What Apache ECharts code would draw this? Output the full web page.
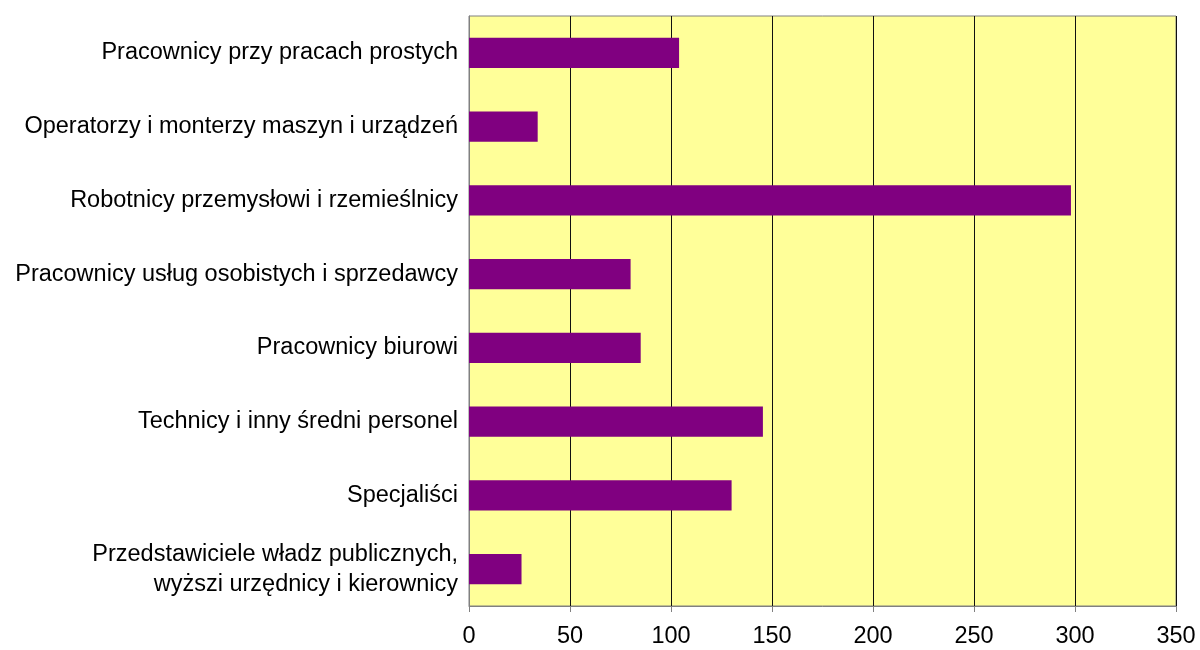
<!DOCTYPE html>
<html>
<head>
<meta charset="utf-8">
<script src="https://cdn.jsdelivr.net/npm/echarts@6/dist/echarts.min.js"></script>
<style>
html,body{margin:0;padding:0;background:#fff;}
#chart{width:1200px;height:650px;}
</style>
</head>
<body>
<div id="chart"></div>
<script>
// grupy zawodow - od dolu do gory
var categories = [
	"Przedstawiciele władz publicznych,\nwyższi urzędnicy i kierownicy",
	"Specjaliści",
	"Technicy i inny średni personel",
	"Pracownicy biurowi",
	"Pracownicy usług osobistych i sprzedawcy",
	"Robotnicy przemysłowi i rzemieślnicy",
	"Operatorzy i monterzy maszyn i urządzeń",
	"Pracownicy przy pracach prostych"
];
var values = [26, 130, 145.5, 85, 80, 298, 34, 104];
var xTicks = [0, 50, 100, 150, 200, 250, 300, 350];

var chart = echarts.init(document.getElementById("chart"));
var option = {
	animation: false,
	backgroundColor: "#ffffff",
	grid: {
		left: 469,
		right: 24,
		top: 16,
		bottom: 44,
		show: true,
		backgroundColor: "#ffff99",
		borderColor: "#808080",
		borderWidth: 1
	},
	xAxis: {
		type: "value",
		min: xTicks[0],
		max: xTicks[xTicks.length - 1],
		interval: 50,
		axisLine: {show: true, lineStyle: {color: "#808080", width: 1}},
		axisTick: {show: true, length: 6, lineStyle: {color: "#808080"}},
		axisLabel: {
			color: "#000",
			fontFamily: "Liberation Sans, Arial",
			fontSize: 23.5,
			margin: 19
		},
		splitLine: {show: true, lineStyle: {color: "#111", width: 1}}
	},
	yAxis: {
		type: "category",
		data: categories,
		axisLine: {show: true, lineStyle: {color: "#808080", width: 1}},
		axisTick: {show: false},
		axisLabel: {
			color: "#000",
			fontFamily: "Liberation Sans, Arial",
			fontSize: 23.5,
			margin: 11,
			lineHeight: 30,
			align: "right"
		},
		splitLine: {show: false}
	},
	series: [{
		type: "bar",
		data: values,
		barCategoryGap: "59%",
		itemStyle: {color: "#800080"}
	}]
};
chart.setOption(option);
</script>
</body>
</html>
